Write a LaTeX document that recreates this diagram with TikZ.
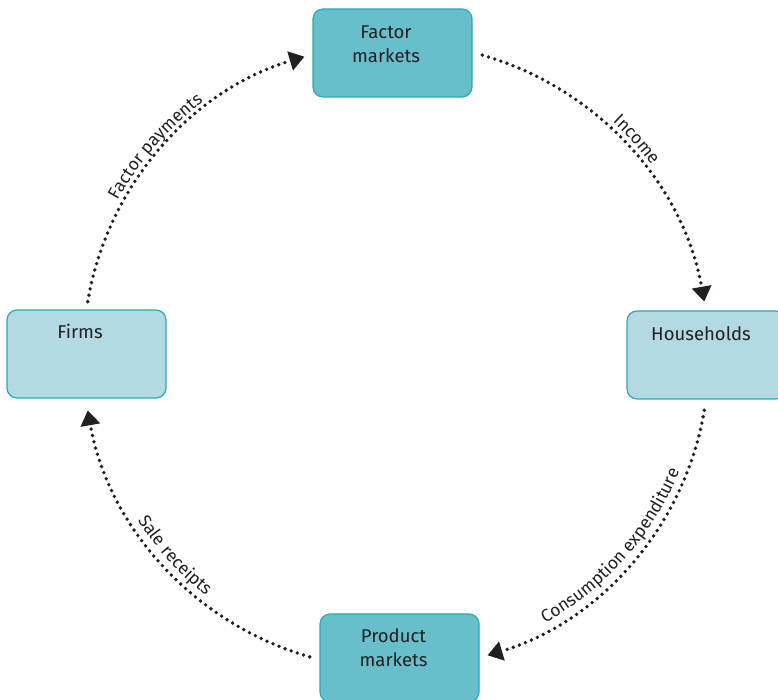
\documentclass[tikz,border=0pt]{standalone}
\usepackage{fontspec}
\setmainfont{Fira Sans}
\usetikzlibrary{arrows.meta,calc,decorations.text}
\definecolor{mktfill}{RGB}{103,191,203}
\definecolor{agentfill}{RGB}{179,218,227}
\definecolor{boxline}{RGB}{40,170,185}
\definecolor{ink}{RGB}{35,31,32}
\newcommand{\boxfont}{\fontsize{18.5}{24}\selectfont}
\newcommand{\flowfont}{\fontsize{17.5}{20}\selectfont}
\tikzset{
  box/.style={draw=boxline, line width=1.2pt, rounded corners=10pt,
    minimum width=159pt, minimum height=88pt, inner sep=0pt},
  mkt/.style={box, fill=mktfill},
  agent/.style={box, fill=agentfill},
  boxtext/.style={font=\boxfont, text=ink, inner sep=0pt, anchor=base},
  flow/.style={draw=ink, line width=3.8pt, line cap=round,
    dash pattern=on 0pt off 6.5pt,
    -{Triangle[length=15pt,width=19pt]}, bend left=32, looseness=0.92},
  flowlabel/.style={decorate, decoration={text along path, text align=center,
    text={|\color{ink}\flowfont|#1}}}
}
\begin{document}
\begin{tikzpicture}[x=1pt,y=1pt]
\useasboundingbox (0,0) rectangle (778,700);
\coordinate (C) at (396,344);
% boxes
\node[mkt] (factor) at (392.5,647) {};
\node[agent] (house) at (706.5,345) {};
\node[agent] (firms) at (86.5,346) {};
\node[mkt] (product) at (399.5,42) {};
% texts
\node[boxtext] (factorT) at (386,661) {\begin{tabular}[t]{@{}c@{}}Factor\\markets\end{tabular}};
\node[boxtext] (houseT) at (701,359) {Households};
\node[boxtext] (firmsT) at (80,361) {Firms};
\node[boxtext] (productT) at (393.5,57) {\begin{tabular}[t]{@{}c@{}}Product\\markets\end{tabular}};
% connector end points on the circle
\coordinate (fpS) at ($(C)+(170:313pt)$);
\coordinate (fpE) at ($(C)+(107:313pt)$);
\coordinate (inS) at ($(C)+(74:313pt)$);
\coordinate (inE) at ($(C)+(10:313pt)$);
\coordinate (ceS) at ($(C)+(-10:313pt)$);
\coordinate (ceE) at ($(C)+(-73:313pt)$);
\coordinate (srS) at ($(C)+(-106:313pt)$);
\coordinate (srE) at ($(C)+(-170:313pt)$);
% connectors
\draw[flow] (fpS) to (fpE);
\draw[flow] (inS) to (inE);
\draw[flow] (ceS) to (ceE);
\draw[flow] (srS) to (srE);
% labels along the arcs
\path[flowlabel={Factor payments}] ($(C)+(170:319pt)$) arc[start angle=170, end angle=108, radius=319pt];
\path[flowlabel={Income}] ($(C)+(74:319pt)$) arc[start angle=74, end angle=10, radius=319pt];
\path[flowlabel={Consumption expenditure}] ($(C)+(-73:306pt)$) arc[start angle=-73, end angle=-10, radius=306pt];
\path[flowlabel={Sale receipts}] ($(C)+(-170:306pt)$) arc[start angle=-170, end angle=-106, radius=306pt];
\end{tikzpicture}
\end{document}
